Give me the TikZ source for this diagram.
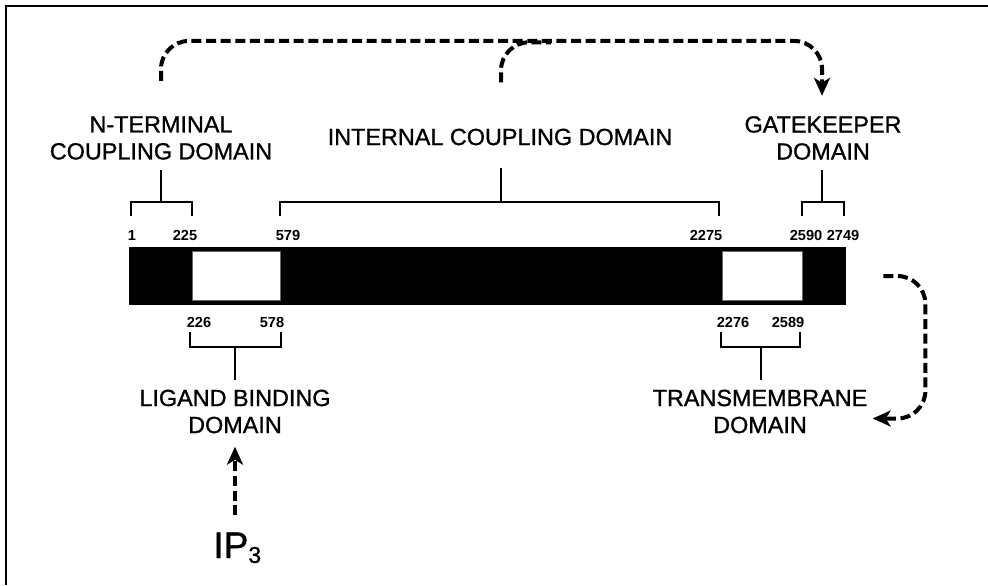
\documentclass[tikz,border=0pt]{standalone}
\usepackage{fontspec}
\setmainfont{Liberation Sans}
\newfontfamily\heavyfont{Liberation Sans}[FakeBold=1]
\usetikzlibrary{arrows.meta}

\begin{document}
\begin{tikzpicture}[x=0.5pt, y=-0.5pt,
  dlabel/.style={align=center, inner sep=0pt, font=\heavyfont\fontsize{11.7}{13.5}\selectfont},
  num/.style={anchor=base, inner sep=0pt, font=\bfseries\fontsize{7.3}{8}\selectfont},
  brace/.style={line width=1.1pt},
  flow/.style={line width=2pt, dash pattern=on 5pt off 2.3pt, rounded corners=14pt,
    -{Stealth[length=9pt, width=8pt, inset=2.5pt]}}]
  \useasboundingbox (0,0) rectangle (988,585);
  % frame (top and left edges only)
  \draw[line width=1pt] (6,585) -- (6,6) -- (988,6);

  % the receptor chain
  \node[fill=black, inner sep=0pt, minimum width=358.5pt, minimum height=29pt] (bar) at (487.5,276) {};
  \fill[white, draw=black!60, line width=0.4pt] (192,251) rectangle (280,300);
  \fill[white, draw=black!60, line width=0.4pt] (722,251) rectangle (802,300);

  % residue numbers
  \node[num] (n1) at (132,240) {1};
  \node[num] (n225) at (185,240) {225};
  \node[num] (n579) at (288,240) {579};
  \node[num] (n2275) at (706,240) {2275};
  \node[num] (n2590) at (806,240) {2590};
  \node[num] (n2749) at (843,240) {2749};
  \node[num] (n226) at (199,327) {226};
  \node[num] (n578) at (272,327) {578};
  \node[num] (n2276) at (733,327) {2276};
  \node[num] (n2589) at (788,327) {2589};

  % domain labels
  \node[dlabel] (nterm) at (161,138) {N-TERMINAL\\COUPLING DOMAIN};
  \node[dlabel] (icd) at (500,137) {INTERNAL COUPLING DOMAIN};
  \node[dlabel] (gate) at (823,138) {GATEKEEPER\\DOMAIN};
  \node[dlabel] (lbd) at (235,411.5) {LIGAND BINDING\\DOMAIN};
  \node[dlabel] (tmd) at (760,411.5) {TRANSMEMBRANE\\DOMAIN};
  \node[anchor=base west, inner sep=0pt, font=\heavyfont\fontsize{18.5}{20}\selectfont] (ip) at (213,558)
    {IP\raisebox{-0.25ex}{\fontsize{11.5}{12}\selectfont 3}};

  % brackets
  \draw[brace] (131,216) |- (192,202) -- (192,216);
  \draw[brace, shorten >=5pt] (161,202) -- (nterm.south);
  \draw[brace] (280,216) |- (719,202) -- (719,216);
  \draw[brace, shorten >=11pt] (501,202) -- (icd.south -| 501,0);
  \draw[brace] (802,216) |- (844,202) -- (844,216);
  \draw[brace, shorten >=5pt] (822,202) -- (gate.south -| 822,0);
  \draw[brace] (190,332) |- (281,347) -- (281,332);
  \draw[brace, shorten >=4.5pt] (235,347) -- (lbd.north);
  \draw[brace] (721,332) |- (800,347) -- (800,332);
  \draw[brace, shorten >=4.5pt] (761,347) -- (tmd.north -| 761,0);

  % coupling arrows
  \draw[flow] ([yshift=17.5pt]nterm.north) -- ++(0,-40) -| ([yshift=10pt]gate.north -| 822,0);
  \draw[flow, -] ([yshift=23pt]icd.north -| 501,0) -- ++(0,-40) -- ++(50,0);
  \draw[flow] ([xshift=18.5pt]bar.east) -- ++(42,0) |- ([xshift=2.5pt, yshift=-3.5pt]tmd.east);
  \draw[flow, shorten <=8.5pt, shorten >=6.5pt] (ip.north -| lbd) -- (lbd.south);
\end{tikzpicture}
\end{document}
